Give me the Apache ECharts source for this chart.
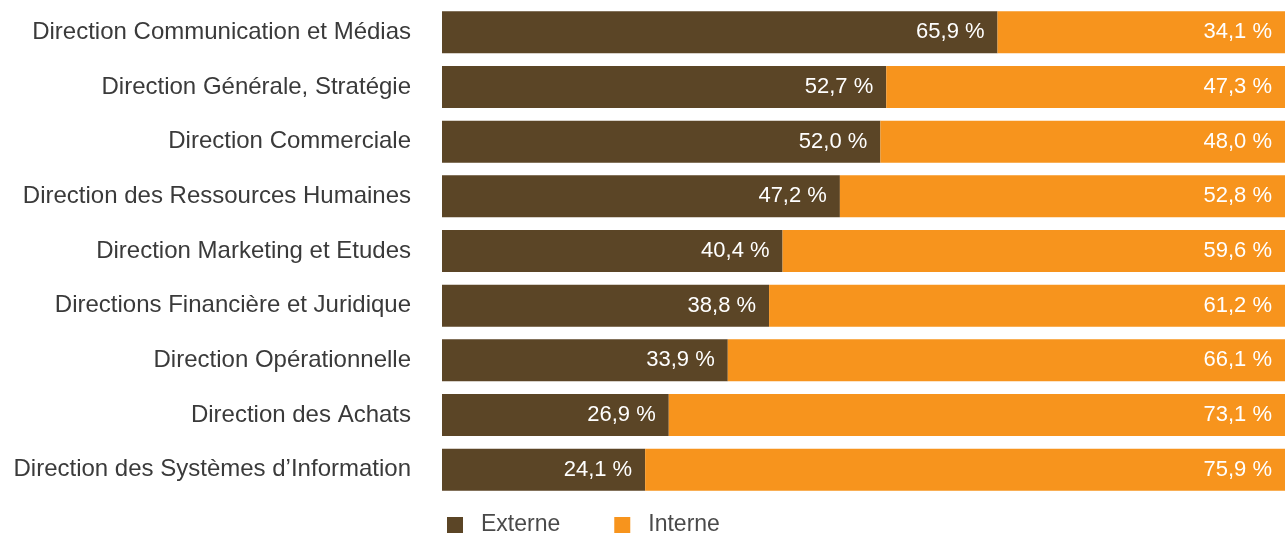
<!DOCTYPE html>
<html>
<head>
<meta charset="utf-8">
<script src="https://cdn.jsdelivr.net/npm/echarts@6/dist/echarts.min.js"></script>
<style>
  html, body { margin: 0; padding: 0; background: #ffffff; }
  #chart { width: 1285px; height: 533px; }
</style>
</head>
<body>
<div id="chart"></div>
<script>
// Departments, top to bottom
const categories = [
  "Direction Communication et Médias",
  "Direction Générale, Stratégie",
  "Direction Commerciale",
  "Direction des Ressources Humaines",
  "Direction Marketing et Etudes",
  "Directions Financière et Juridique",
  "Direction Opérationnelle",
  "Direction des Achats",
  "Direction des Systèmes d\u2019Information"
];
// Share of external / internal (%)
const externe = [65.9, 52.7, 52.0, 47.2, 40.4, 38.8, 33.9, 26.9, 24.1];
const interne = [34.1, 47.3, 48.0, 52.8, 59.6, 61.2, 66.1, 73.1, 75.9];
const seriesNames = ["Externe", "Interne"];

const FONT = "'Liberation Sans', Arial, Helvetica, sans-serif";
const fmt = p => p.value.toFixed(1).replace('.', ',') + ' %';

const chart = echarts.init(document.getElementById('chart'), null, { renderer: 'canvas' });
chart.setOption({
  animation: false,
  color: ['#5b4526', '#f7941d'],
  grid: { left: 442, right: 0, top: 5, bottom: 36, containLabel: false },
  legend: {
    left: 447, top: 513, padding: 0, itemWidth: 16, itemHeight: 16, itemGap: 54,
    icon: 'rect',
    textStyle: { fontFamily: FONT, fontSize: 23, lineHeight: 24, color: '#4a4a4a', padding: [0, 0, 0, 13] },
    data: seriesNames
  },
  xAxis: { type: 'value', min: 0, max: 100, show: false },
  yAxis: {
    type: 'category', inverse: true, data: categories,
    axisLine: { show: false }, axisTick: { show: false },
    axisLabel: { fontFamily: FONT, fontSize: 24, color: '#3a3a3a', margin: 31,
                 padding: [0, 0, 3, 0] }
  },
  series: [
    {
      name: seriesNames[0], type: 'bar', stack: 'total', data: externe, barWidth: 42,
      label: { show: true, position: 'insideRight', distance: 13, formatter: fmt,
               fontFamily: FONT, fontSize: 22, color: '#ffffff' }
    },
    {
      name: seriesNames[1], type: 'bar', stack: 'total', data: interne, barWidth: 42,
      label: { show: true, position: 'insideRight', distance: 13, formatter: fmt,
               fontFamily: FONT, fontSize: 22, color: '#ffffff' }
    }
  ]
});
</script>
</body>
</html>
